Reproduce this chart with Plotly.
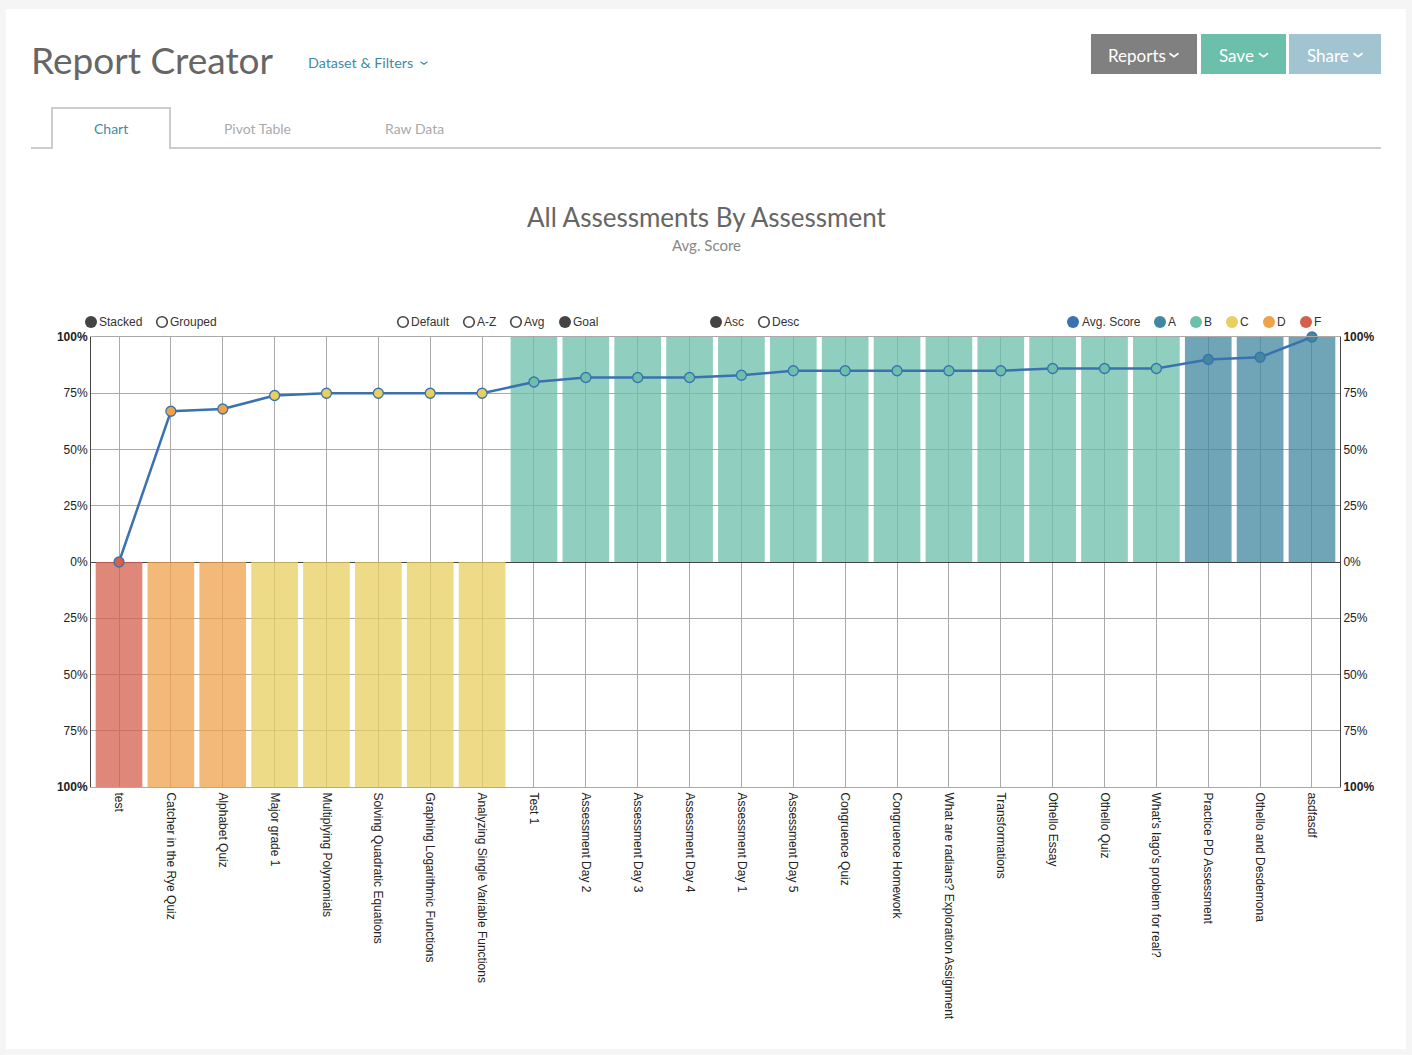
import plotly.graph_objects as go

categories = ["test", "Catcher in the Rye Quiz", "Alphabet Quiz", "Major grade 1", "Multiplying Polynomials",
              "Solving Quadratic Equations", "Graphing Logarithmic Functions", "Analyzing Single Variable Functions",
              "Test 1", "Assessment Day 2", "Assessment Day 3", "Assessment Day 4", "Assessment Day 1",
              "Assessment Day 5", "Congruence Quiz", "Congruence Homework", "What are radians? Exploration Assignment",
              "Transformations", "Othello Essay", "Othello Quiz", "What's Iago's problem for real?",
              "Practice PD Assessment", "Othello and Desdemona", "asdfasdf"]
avg_scores = [0, 67, 68, 74, 75, 75, 75, 75, 80, 82, 82, 82, 83, 85, 85, 85, 85, 85, 86, 86, 86, 90, 91, 100]
grades = ["F", "D", "D", "C", "C", "C", "C", "C", "B", "B", "B", "B", "B", "B", "B", "B", "B", "B", "B", "B", "B", "A", "A", "A"]
bar_values = [-100, -100, -100, -100, -100, -100, -100, -100, 100, 100, 100, 100, 100, 100, 100, 100, 100, 100, 100, 100, 100, 100, 100, 100]
grade_names = ["A", "B", "C", "D", "F"]
y_ticks = [-100, -75, -50, -25, 0, 25, 50, 75, 100]
y_labels = ["<b>100%</b>", "75%", "50%", "25%", "0%", "25%", "50%", "75%", "<b>100%</b>"]

COL = {"A": "#41879f", "B": "#6cc0ab", "C": "#e8cf5f", "D": "#eea24b", "F": "#d4604c"}
LINE = "#3a72b0"
GRID = "#aaaaaa"
W, H = 1412, 1055
L, R, T, B = 91, 1340, 337, 787
SANS = "Liberation Sans"
UI = "Lato"


def px(x):
    return (x - L) / (R - L)


def py(y):
    return (B - y) / (B - T)


fig = go.Figure()
for g in grade_names:
    idx = [i for i, v in enumerate(grades) if v == g]
    fig.add_trace(go.Bar(x=[categories[i] for i in idx], y=[bar_values[i] for i in idx], name=g,
                         marker=dict(color=COL[g], line=dict(width=0)), opacity=0.75, showlegend=False))
fig.add_trace(go.Scatter(x=categories, y=avg_scores, yaxis="y2", mode="lines+markers", name="Avg. Score",
                         line=dict(color=LINE, width=2.5), cliponaxis=False, showlegend=False,
                         marker=dict(size=10, color=[COL[g] for g in grades], line=dict(color=LINE, width=1.3))))

shapes = []
ann = []


def rect(x0, y0, x1, y1, color):
    shapes.append(dict(type="rect", xref="paper", yref="paper", x0=px(x0), x1=px(x1), y0=py(y0), y1=py(y1),
                       fillcolor=color, line=dict(width=0), layer="below"))


def text(x, y, s, size, color, family=UI, anchor="left"):
    ann.append(dict(xref="paper", yref="paper", x=px(x), y=py(y), text=s, showarrow=False, xanchor=anchor,
                    yanchor="middle", borderpad=0, borderwidth=0,
                    font=dict(family=family, size=size, color=color)))


def chevron(cx, cy, color, w=4.5, h=3.5, width=1.6):
    p = f"M{px(cx-w)},{py(cy-h/2)} L{px(cx)},{py(cy+h/2)} L{px(cx+w)},{py(cy-h/2)}"
    shapes.append(dict(type="path", xref="paper", yref="paper", path=p, line=dict(color=color, width=width)))


def dot(cx, cy, color=None, hollow=False):
    r = 5.3 if hollow else 6
    shapes.append(dict(type="circle", xref="paper", yref="paper", x0=px(cx - r), x1=px(cx + r),
                       y0=py(cy + r), y1=py(cy - r),
                       fillcolor="white" if hollow else color,
                       line=dict(color="#444444" if hollow else color, width=1.6 if hollow else 0)))


rect(6, 9, 1406, 1049, "white")
for x0, x1, c, label, tx, cvx in [(1091, 1197, "#808080", "Reports", 1136.5, 1174),
                                  (1201, 1286, "#6cc0ab", "Save", 1236, 1263.5),
                                  (1289, 1381, "#a2c4d1", "Share", 1327.5, 1358)]:
    rect(x0, 34, x1, 74, c)
    text(tx, 55.5, label, 17, "white", anchor="center")
    chevron(cvx, 55, "white")

tab = "M{},{} L{},{} L{},{} L{},{} L{},{} L{},{}".format(px(31), py(148), px(52), py(148), px(52), py(108),
                                                          px(170), py(108), px(170), py(148), px(1381), py(148))
shapes.append(dict(type="path", xref="paper", yref="paper", path=tab, line=dict(color="#cccccc", width=2)))

text(31, 59, "Report Creator", 37, "#666666")
text(308, 62.5, "Dataset &amp; Filters", 14.3, "#3f8ba5")
chevron(424, 63, "#3f8ba5", w=3.5, h=2.5, width=1.2)
text(111, 129, "Chart", 14, "#3f8ba5", anchor="center")
text(257, 129, "Pivot Table", 14, "#aaaaaa", anchor="center")
text(415, 129, "Raw Data", 14, "#aaaaaa", anchor="center")
text(706, 217, "All Assessments By Assessment", 26, "#666666", anchor="center")
text(706, 244.5, "Avg. Score", 15, "#888888", anchor="center")

for cx, tx, s, filled in [(91, 99, "Stacked", True), (162, 170, "Grouped", False), (403, 411, "Default", False),
                          (469, 477, "A-Z", False), (516, 524, "Avg", False), (565, 573, "Goal", True),
                          (716, 724, "Asc", True), (764, 772, "Desc", False)]:
    dot(cx, 322, "#444444", hollow=not filled)
    text(tx, 322, s, 12, "#333333", SANS)
for cx, tx, s, c in [(1073, 1082, "Avg. Score", LINE), (1160, 1168, "A", COL["A"]), (1196, 1204, "B", COL["B"]),
                     (1232, 1240, "C", COL["C"]), (1269, 1277, "D", COL["D"]), (1306, 1314, "F", COL["F"])]:
    dot(cx, 322, c)
    text(tx, 322, s, 12, "#333333", SANS)

yaxis_common = dict(range=[-100, 100], tickmode="array", tickvals=y_ticks, ticktext=y_labels, ticks="",
                    showline=True, linecolor="#444444", linewidth=1,
                    tickfont=dict(family=SANS, size=12, color="#222222"))
fig.update_layout(
    width=W, height=H, autosize=False, margin=dict(l=L, r=W - R, t=T, b=H - B, pad=0),
    paper_bgcolor="#f5f5f5", plot_bgcolor="white", barmode="overlay", bargap=0.1,
    showlegend=False, shapes=shapes, annotations=ann, font=dict(family=SANS),
    xaxis=dict(range=[-0.54, 23.54], categoryorder="array", categoryarray=categories, tickangle=90,
               tickfont=dict(family=SANS, size=12, color="#222222"), showgrid=True, gridcolor=GRID, gridwidth=1,
               ticks="outside", ticklen=2, tickcolor="rgba(0,0,0,0)", showline=True, mirror=True, linecolor=GRID,
               linewidth=1, tickmode="array", tickvals=categories, ticktext=categories, automargin=False),
    yaxis=dict(showgrid=True, gridcolor=GRID, gridwidth=1, zeroline=True, zerolinecolor="#444444",
               zerolinewidth=1, automargin=False, **yaxis_common),
    yaxis2=dict(overlaying="y", side="right", showgrid=False, zeroline=False, automargin=False, **yaxis_common),
)
fig.write_html("out.html", post_script="document.body.style.margin='0';", config={"displayModeBar": False})
